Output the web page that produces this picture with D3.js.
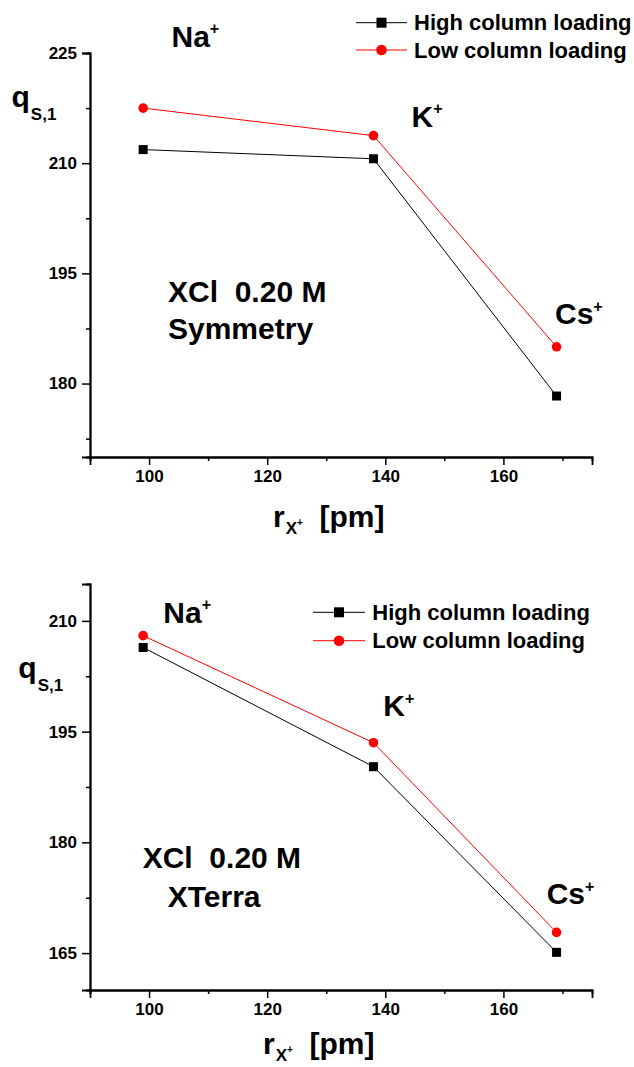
<!DOCTYPE html>
<html>
<head>
<meta charset="utf-8">
<script src="https://cdn.jsdelivr.net/npm/d3@7/dist/d3.min.js"></script>
<style>
  html, body { margin: 0; padding: 0; background: #fff; }
  svg { display: block; }
  text { font-family: "Liberation Sans", Arial, sans-serif; font-weight: bold; fill: #000; }
</style>
</head>
<body>
<svg id="chart" width="634" height="1067"></svg>
<script>
// Ionic radius of the cation (pm)
const radii = [99, 138, 169];
const ions = ["Na", "K", "Cs"];

// Saturation capacity q_S,1 — Symmetry column
const symmetryHigh = [211.85, 210.6, 178.3];
const symmetryLow = [217.5, 213.75, 185.0];

// Saturation capacity q_S,1 — XTerra column
const xterraHigh = [206.4, 190.25, 165.1];
const xterraLow = [208.0, 193.5, 167.8];

// Axis ticks
const xMajorTicks = [100, 120, 140, 160];
const xMinorTicks = [90, 110, 130, 150, 170];
const symmetryYMajor = [180, 195, 210, 225];
const symmetryYMinor = [172.5, 187.5, 202.5, 217.5];
const xterraYMajor = [165, 180, 195, 210];
const xterraYMinor = [172.5, 187.5, 202.5];

const seriesNames = ["High column loading", "Low column loading"];
const seriesColors = ["#000000", "#ff0000"];

const svg = d3.select("#chart");

function drawPanel(cfg) {
  const g = svg.append("g");
  const x = d3.scaleLinear().domain([90, 175]).range([90, 592]);
  const y = d3.scaleLinear().domain(cfg.yDomain).range([cfg.bottom, cfg.top]);

  // y axis
  const yAxis = d3.axisLeft(y).tickValues(cfg.yMajor).tickSize(8).tickPadding(5)
    .tickFormat(d3.format("d"));
  g.append("g").attr("transform", "translate(90,0)").call(yAxis);
  g.append("g").attr("transform", "translate(90,0)")
    .call(d3.axisLeft(y).tickValues(cfg.yMinor).tickSize(4).tickFormat(""));

  // x axis
  const xAxis = d3.axisBottom(x).tickValues(xMajorTicks).tickSize(8).tickPadding(5)
    .tickFormat(d3.format("d"));
  g.append("g").attr("transform", `translate(0,${cfg.bottom})`).call(xAxis);
  g.append("g").attr("transform", `translate(0,${cfg.bottom})`)
    .call(d3.axisBottom(x).tickValues(xMinorTicks).tickSize(4).tickFormat(""));

  g.selectAll(".domain").attr("stroke", "#000").attr("stroke-width", 1.8);
  g.selectAll(".tick line").attr("stroke", "#000").attr("stroke-width", 1.5);
  g.selectAll(".tick text").attr("font-size", 17).attr("font-weight", "bold")
    .attr("font-family", "'Liberation Sans', Arial, sans-serif").attr("fill", "#000");

  // series lines and markers
  const line = d3.line().x((d, i) => x(radii[i])).y(d => y(d));
  [cfg.high, cfg.low].forEach((vals, s) => {
    g.append("path").datum(vals).attr("d", line)
      .attr("fill", "none").attr("stroke", seriesColors[s]).attr("stroke-width", 1);
  });
  g.selectAll("rect.pt").data(cfg.high).join("rect").attr("class", "pt")
    .attr("x", (d, i) => x(radii[i]) - 4.5).attr("y", d => y(d) - 4.5)
    .attr("width", 9).attr("height", 9).attr("fill", seriesColors[0]);
  g.selectAll("circle.pt").data(cfg.low).join("circle").attr("class", "pt")
    .attr("cx", (d, i) => x(radii[i])).attr("cy", d => y(d))
    .attr("r", 4.8).attr("fill", seriesColors[1]);

  // ion labels
  ions.forEach((ion, i) => {
    const p = cfg.ionPos[i];
    const t = g.append("text").attr("x", p[0]).attr("y", p[1]).attr("font-size", 30);
    t.append("tspan").text(ion);
    t.append("tspan").attr("font-size", 16).attr("dy", -12.5).text("+");
  });

  // column / eluent annotation
  cfg.note.forEach(n => {
    g.append("text").attr("x", n[0]).attr("y", n[1]).attr("font-size", 30)
      .style("white-space", "pre").text(n[2]);
  });

  // y title q_S,1
  const qt = g.append("text").attr("x", cfg.qPos[0]).attr("y", cfg.qPos[1]).attr("font-size", 30);
  qt.append("tspan").text("q");
  qt.append("tspan").attr("font-size", 17).attr("dy", 13).attr("dx", 1).text("S,1");

  // x title r_X+ [pm]
  const rt = g.append("text").attr("x", cfg.rPos[0]).attr("y", cfg.rPos[1]).attr("font-size", 30)
    .style("white-space", "pre");
  rt.append("tspan").text("r");
  rt.append("tspan").attr("font-size", 17).attr("dy", 7).attr("dx", 1).text("X");
  rt.append("tspan").attr("font-size", 10).attr("dy", -8).text("+");
  rt.append("tspan").attr("dy", 1).text("  [pm]");

  // legend
  const lg = g.append("g");
  seriesNames.forEach((name, s) => {
    const cy = cfg.legend.rows[s];
    lg.append("line").attr("x1", cfg.legend.x0).attr("x2", cfg.legend.x1)
      .attr("y1", cy).attr("y2", cy).attr("stroke", seriesColors[s]).attr("stroke-width", 1);
    const mx = (cfg.legend.x0 + cfg.legend.x1) / 2;
    if (s === 0) {
      lg.append("rect").attr("x", mx - 5).attr("y", cy - 5).attr("width", 10).attr("height", 10)
        .attr("fill", seriesColors[s]);
    } else {
      lg.append("circle").attr("cx", mx).attr("cy", cy).attr("r", 5.3).attr("fill", seriesColors[s]);
    }
    lg.append("text").attr("x", cfg.legend.tx).attr("y", cy + 7.6).attr("font-size", 22).text(name);
  });
}

drawPanel({
  yDomain: [170, 225], top: 53, bottom: 457,
  yMajor: symmetryYMajor, yMinor: symmetryYMinor,
  high: symmetryHigh, low: symmetryLow,
  ionPos: [[171.5, 46.7], [411.5, 126.7], [555, 324]],
  note: [[168, 301.7, "XCl  0.20 M"], [168, 339, "Symmetry"]],
  qPos: [11.5, 106.7], rPos: [273, 527],
  legend: { x0: 356, x1: 407, tx: 414, rows: [22.7, 50] }
});

drawPanel({
  yDomain: [160, 215], top: 584, bottom: 990,
  yMajor: xterraYMajor, yMinor: xterraYMinor,
  high: xterraHigh, low: xterraLow,
  ionPos: [[163.3, 622.7], [383.3, 716], [546.7, 904]],
  note: [[142.7, 868.3, "XCl  0.20 M"], [167.7, 906.7, "XTerra"]],
  qPos: [18.3, 678.3], rPos: [263, 1054],
  legend: { x0: 313, x1: 365, tx: 372.3, rows: [612.3, 640.7] }
});
</script>
</body>
</html>
